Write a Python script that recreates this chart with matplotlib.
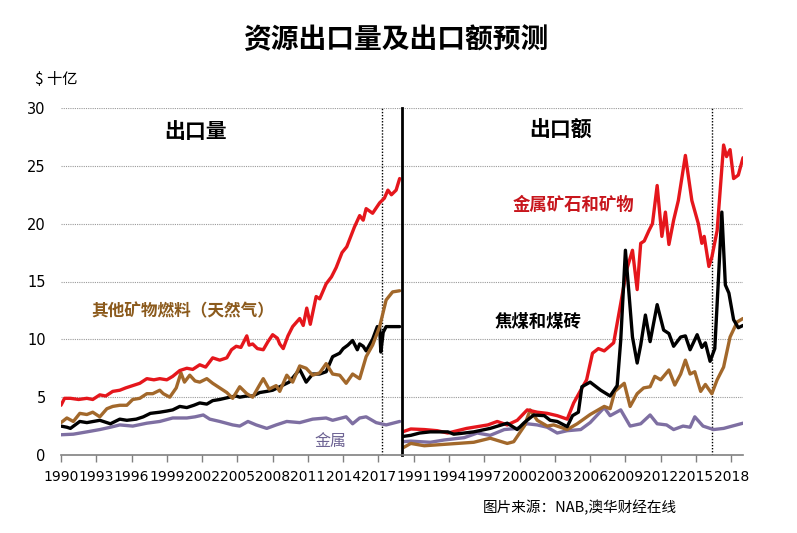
import matplotlib
matplotlib.use("Agg")
import matplotlib.pyplot as plt

plt.rcParams['font.family'] = ['DejaVu Sans', 'Noto Sans CJK SC']
CJK = ['Noto Sans CJK SC', 'DejaVu Sans']

# --- left panel: export volumes ($ bn) ---
vol_ores_yr = [1990.0, 1990.3, 1990.8, 1991.5, 1992.2, 1992.7, 1993.3, 1993.8, 1994.4, 1995.0,
               1995.5, 1996.1, 1996.7, 1997.3, 1997.9, 1998.4, 1999.0, 1999.5, 2000.1, 2000.7,
               2001.2, 2001.8, 2002.3, 2002.9, 2003.5, 2004.1, 2004.5, 2004.9, 2005.3, 2005.8,
               2006.0, 2006.3, 2006.7, 2007.2, 2007.6, 2008.0, 2008.4, 2008.6, 2008.9, 2009.3,
               2009.7, 2010.3, 2010.6, 2010.9, 2011.2, 2011.7, 2012.0, 2012.55, 2013.0, 2013.4,
               2013.9, 2014.3, 2014.95, 2015.4, 2015.7, 2015.95, 2016.5, 2017.1, 2017.5, 2017.8,
               2018.1, 2018.5, 2018.8]
vol_ores = [4.3, 4.9, 4.9, 4.8, 4.9, 4.8, 5.2, 5.1, 5.5, 5.6,
            5.8, 6.0, 6.2, 6.6, 6.5, 6.6, 6.5, 6.8, 7.3, 7.5,
            7.4, 7.8, 7.6, 8.4, 8.2, 8.4, 9.1, 9.4, 9.3, 10.3,
            9.5, 9.6, 9.2, 9.1, 9.8, 10.4, 10.1, 9.6, 9.2, 10.3,
            11.1, 11.8, 11.2, 12.7, 11.3, 13.7, 13.5, 14.8, 15.4, 16.2,
            17.5, 18.0, 19.7, 20.7, 20.3, 21.3, 20.9, 21.8, 22.2, 22.9,
            22.5, 22.9, 23.9]

vol_coal_yr = [1990.0, 1990.5, 1990.8, 1991.6, 1992.2, 1993.3, 1994.2, 1995.0, 1995.6, 1996.4,
               1997.0, 1997.6, 1998.4, 1999.0, 1999.5, 2000.1, 2000.7, 2001.3, 2001.8, 2002.4,
               2002.9, 2003.5, 2004.35, 2004.9, 2005.2, 2005.8, 2006.3, 2006.9, 2007.5, 2008.0,
               2008.6, 2009.4, 2010.3, 2010.6, 2010.85, 2011.4, 2012.0, 2012.55, 2013.1, 2013.7,
               2014.0, 2014.4, 2014.8, 2015.2, 2015.4, 2015.7, 2015.95, 2016.5, 2016.9, 2017.1,
               2017.2, 2017.4, 2017.65, 2018.2, 2018.8]
vol_coal = [2.5, 2.4, 2.3, 2.9, 2.8, 3.0, 2.7, 3.1, 3.0, 3.1,
            3.3, 3.6, 3.7, 3.8, 3.9, 4.2, 4.1, 4.3, 4.5, 4.4,
            4.7, 4.8, 5.0, 5.1, 5.0, 5.1, 5.1, 5.4, 5.5, 5.6,
            5.9, 6.3, 7.4, 6.8, 6.3, 7.0, 7.0, 7.2, 8.5, 8.8,
            9.2, 9.5, 9.9, 9.1, 9.6, 9.4, 9.0, 10.0, 11.1, 11.0,
            8.9, 10.6, 11.1, 11.1, 11.1]

vol_gas_yr = [1990.0, 1990.5, 1991.05, 1991.6, 1992.2, 1992.7, 1993.3, 1993.9, 1994.4, 1995.0,
              1995.6, 1996.1, 1996.7, 1997.3, 1997.8, 1998.4, 1998.7, 1999.25, 1999.8, 2000.2,
              2000.5, 2000.95, 2001.4, 2001.8, 2002.4, 2002.9, 2003.5, 2004.1, 2004.6, 2005.2,
              2005.8, 2006.3, 2006.8, 2007.2, 2007.7, 2008.3, 2008.6, 2009.2, 2009.7, 2010.3,
              2010.85, 2011.4, 2012.0, 2012.55, 2013.1, 2013.7, 2014.25, 2014.8, 2015.4, 2015.95,
              2016.5, 2017.1, 2017.65, 2018.2, 2018.8]
vol_gas = [2.8, 3.2, 2.9, 3.6, 3.5, 3.7, 3.3, 4.0, 4.2, 4.3,
           4.3, 4.8, 4.9, 5.3, 5.3, 5.6, 5.3, 5.0, 5.8, 7.1,
           6.3, 6.9, 6.4, 6.3, 6.6, 6.2, 5.8, 5.4, 4.9, 5.9,
           5.3, 5.0, 5.9, 6.6, 5.7, 6.0, 5.5, 6.9, 6.3, 7.7,
           7.5, 6.9, 7.1, 7.9, 7.0, 6.9, 6.2, 7.0, 6.6, 8.5,
           9.5, 11.1, 13.4, 14.1, 14.2]

vol_metal_yr = [1990.0, 1991.05, 1992.2, 1993.3, 1994.2, 1995.0, 1996.1, 1997.3, 1998.4, 1999.5,
                2000.7, 2001.4, 2002.1, 2002.65, 2003.5, 2004.6, 2005.2, 2005.9, 2006.6, 2007.5,
                2008.3, 2009.2, 2010.3, 2011.4, 2012.55, 2013.1, 2014.25, 2014.8, 2015.4, 2015.95,
                2016.8, 2017.65, 2018.8]
vol_metal = [1.75, 1.8, 2.0, 2.2, 2.4, 2.6, 2.5, 2.75, 2.9, 3.2,
             3.2, 3.3, 3.46, 3.1, 2.9, 2.6, 2.5, 2.9, 2.6, 2.3,
             2.6, 2.9, 2.8, 3.1, 3.2, 3.0, 3.3, 2.7, 3.2, 3.3,
             2.8, 2.6, 2.9]

# --- right panel: export values ($ bn) ---
val_ores_yr = [1990.04, 1990.75, 1991.9, 1993.0, 1993.9, 1994.7, 1995.5, 1996.4, 1997.3, 1998.1,
               1998.95, 1999.8, 2000.65, 2001.5, 2002.35, 2003.2, 2004.05, 2004.6, 2005.2, 2005.7,
               2006.2, 2006.7, 2007.2, 2008.0, 2008.6, 2009.1, 2009.6, 2010.0, 2010.3, 2010.6,
               2011.0, 2011.3, 2011.7, 2012.1, 2012.4, 2012.7, 2013.1, 2013.5, 2014.1, 2014.65,
               2015.2, 2015.5, 2015.7, 2016.1, 2016.35, 2016.8, 2017.35, 2017.6, 2017.9, 2018.2,
               2018.6, 2019.0]
val_ores = [2.0, 2.25, 2.2, 2.1, 1.9, 2.1, 2.3, 2.45, 2.6, 2.9,
            2.6, 3.0, 3.9, 3.7, 3.6, 3.4, 3.1, 4.5, 5.6, 6.5,
            8.8, 9.2, 9.0, 9.7, 13.1, 16.0, 17.7, 14.3, 18.3, 18.5,
            19.4, 20.0, 23.3, 18.9, 21.0, 18.2, 20.3, 22.0, 25.9, 22.0,
            20.0, 18.3, 18.9, 16.3, 17.1, 19.4, 26.8, 25.8, 26.4, 23.9,
            24.2, 25.7]

val_coal_yr = [1990.04, 1990.75, 1991.5, 1992.4, 1993.3, 1993.9, 1994.4, 1995.3, 1996.1, 1997.5,
               1998.95, 1999.8, 2000.4, 2001.2, 2002.1, 2002.6, 2003.2, 2004.05, 2004.5, 2005.0,
               2005.3, 2006.0, 2006.9, 2007.7, 2008.3, 2008.6, 2009.0, 2009.3, 2009.6, 2010.0,
               2010.3, 2010.7, 2011.1, 2011.7, 2012.25, 2012.7, 2013.1, 2013.7, 2014.1, 2014.5,
               2015.1, 2015.5, 2015.8, 2016.2, 2016.6, 2016.9, 2017.2, 2017.5, 2017.8, 2018.2,
               2018.6, 2019.0]
val_coal = [1.6, 1.7, 1.9, 2.0, 2.0, 2.0, 1.8, 1.9, 2.0, 2.3,
            2.75, 2.2, 2.8, 3.46, 3.4, 3.0, 2.9, 2.45, 3.4, 3.7,
            5.9, 6.3, 5.6, 5.1, 6.0, 9.9, 17.7, 14.0, 10.2, 7.95,
            9.5, 12.1, 9.8, 13.0, 10.8, 10.5, 9.4, 10.2, 10.3, 9.1,
            10.4, 9.3, 9.7, 8.1, 9.2, 15.0, 21.0, 14.7, 14.0, 11.7,
            11.0, 11.2]

val_gas_yr = [1990.04, 1990.75, 1991.9, 1993.3, 1994.7, 1996.1, 1997.5, 1998.95, 1999.5, 2000.4,
              2000.9, 2001.5, 2002.35, 2002.9, 2004.05, 2004.9, 2006.0, 2007.2, 2007.7, 2008.1,
              2008.9, 2009.4, 2010.0, 2010.55, 2011.1, 2011.5, 2012.0, 2012.7, 2013.2, 2013.7,
              2014.1, 2014.5, 2014.9, 2015.4, 2015.8, 2016.35, 2016.8, 2017.35, 2017.9, 2018.5,
              2019.0]
val_gas = [0.6, 1.0, 0.8, 0.9, 1.0, 1.1, 1.45, 1.0, 1.15, 2.5,
           3.9, 3.0, 2.5, 2.6, 2.2, 2.7, 3.5, 4.2, 4.0, 5.5,
           6.2, 4.2, 5.3, 5.8, 5.9, 6.8, 6.5, 7.35, 6.05, 7.0,
           8.2, 7.0, 7.2, 5.5, 6.1, 5.3, 6.5, 7.6, 10.2, 11.5,
           11.8]

val_metal_yr = [1990.04, 1990.75, 1992.4, 1993.6, 1995.3, 1996.4, 1997.5, 1998.7, 1999.8, 2000.65,
                2001.5, 2002.35, 2003.2, 2004.05, 2005.2, 2006.0, 2007.2, 2007.7, 2008.6, 2009.4,
                2010.3, 2011.1, 2011.7, 2012.5, 2013.1, 2013.9, 2014.5, 2014.9, 2015.6, 2016.5,
                2017.35, 2019.0]
val_metal = [1.15, 1.2, 1.1, 1.3, 1.5, 1.9, 1.7, 2.2, 2.3, 2.7,
             2.6, 2.4, 1.9, 2.1, 2.2, 2.8, 4.1, 3.4, 3.9, 2.5,
             2.7, 3.46, 2.7, 2.6, 2.2, 2.5, 2.4, 3.3, 2.5, 2.2,
             2.3, 2.75]

left_ticks = list(range(1990, 2018, 3))
right_ticks = list(range(1991, 2019, 3))
y_ticks = [0, 5, 10, 15, 20, 25, 30]
left_forecast = 2017.3
right_forecast = 2016.36

RED = '#E5161C'
BROWN = '#A2682B'
PURPLE = '#7E6FA2'
BLACK = '#000000'
GRID = '#9a9a9a'

fig = plt.figure(figsize=(7.97, 5.33), dpi=100)
axl = fig.add_axes([61 / 797, 1 - 455 / 533, 341 / 797, 347 / 533])
axr = fig.add_axes([402 / 797, 1 - 455 / 533, 341 / 797, 347 / 533], sharey=axl)

lw = 2.4
kw = dict(lw=lw, solid_joinstyle='round', solid_capstyle='round')
axl.plot(vol_metal_yr, vol_metal, color=PURPLE, **kw)
axl.plot(vol_coal_yr, vol_coal, color=BLACK, **kw)
axl.plot(vol_gas_yr, vol_gas, color=BROWN, **kw)
axl.plot(vol_ores_yr, vol_ores, color=RED, **kw)

axr.plot(val_metal_yr, val_metal, color=PURPLE, **kw)
axr.plot(val_gas_yr, val_gas, color=BROWN, **kw)
axr.plot(val_ores_yr, val_ores, color=RED, **kw)
axr.plot(val_coal_yr, val_coal, color=BLACK, **kw)

for ax, ticks, fc in [(axl, left_ticks, left_forecast), (axr, right_ticks, right_forecast)]:
    ax.set_xlim(1990, 2019)
    ax.set_ylim(0, 30)
    ax.set_xticks(ticks)
    ax.set_xticklabels([str(t) for t in ticks], fontsize=10)
    ax.set_yticks(y_ticks)
    for y in y_ticks[1:]:
        ax.axhline(y, color=GRID, lw=0.8, ls=(0, (1, 1)), zorder=0)
    ax.axvline(fc, color=BLACK, lw=1.0, ls=(0, (1, 1.2)), zorder=1)
    ax.spines['top'].set_visible(False)
    ax.spines['right'].set_visible(False)
    ax.spines['bottom'].set_color('#808080')
    ax.spines['bottom'].set_linewidth(1.2)
    ax.tick_params(axis='x', direction='out', length=5, width=1, color='#808080', pad=6)
    ax.tick_params(axis='y', length=0, pad=11, labelsize=10.5)

axl.spines['left'].set_visible(False)
axr.spines['left'].set_color(BLACK)
axr.spines['left'].set_linewidth(2)
axr.tick_params(axis='y', labelleft=False)

# texts
fig.text(396 / 797, 1 - 40 / 533, '资源出口量及出口额预测', ha='center', va='center',
         fontsize=20, fontweight='bold', family=CJK)
fig.text(35 / 797, 1 - 80 / 533, '$ 十亿', ha='left', va='center', fontsize=11, family=CJK)
fig.text(196 / 797, 1 - 132 / 533, '出口量', ha='center', va='center', fontsize=15,
         fontweight='bold', family=CJK)
fig.text(561 / 797, 1 - 130 / 533, '出口额', ha='center', va='center', fontsize=15,
         fontweight='bold', family=CJK)
fig.text(573 / 797, 1 - 205 / 533, '金属矿石和矿物', ha='center', va='center', fontsize=12.5,
         fontweight='bold', color='#C8161D', family=CJK)
fig.text(538 / 797, 1 - 322 / 533, '焦煤和煤砖', ha='center', va='center', fontsize=12.5,
         fontweight='bold', color=BLACK, family=CJK)
fig.text(183 / 797, 1 - 311 / 533, '其他矿物燃料（天然气）', ha='center', va='center', fontsize=12,
         fontweight='bold', color='#8B5A1C', family=CJK)
fig.text(330 / 797, 1 - 441 / 533, '金属', ha='center', va='center', fontsize=11.5,
         color='#6E6494', family=CJK)
fig.text(483 / 797, 1 - 508 / 533, '图片来源：NAB,澳华财经在线', ha='left', va='center',
         fontsize=10.5, family=CJK)

fig.savefig('out.png', dpi=100)
